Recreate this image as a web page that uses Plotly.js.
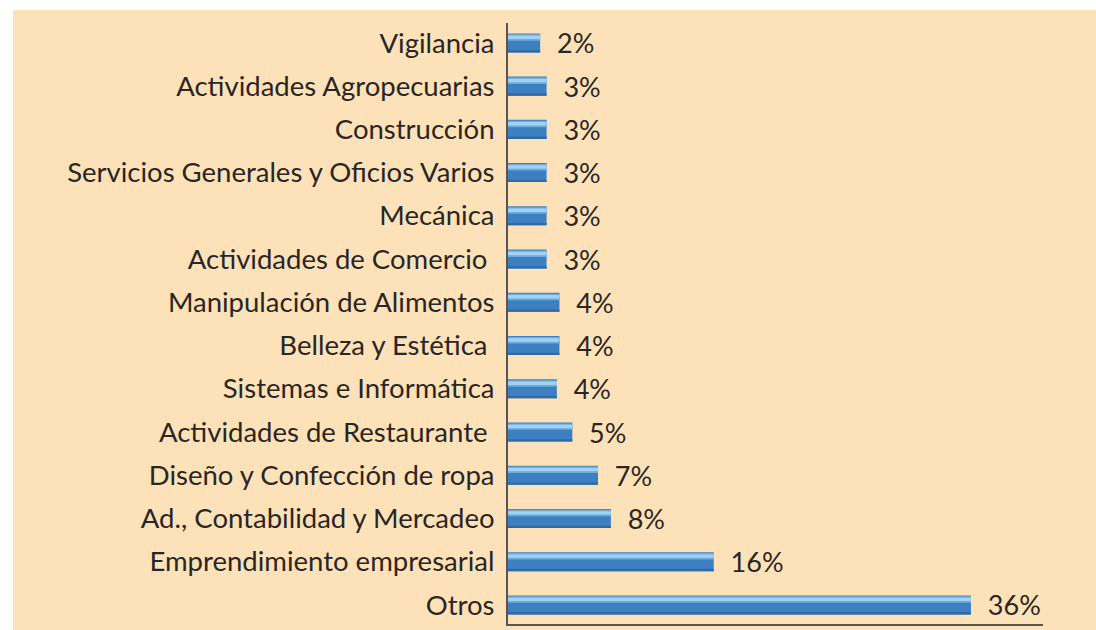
<!DOCTYPE html>
<html>
<head>
<meta charset="utf-8">
<script src="https://cdn.plot.ly/plotly-3.0.1.min.js"></script>
<style>
  html, body { margin: 0; padding: 0; background: #ffffff; }
  #chart { position: absolute; left: 13px; top: 10px; width: 1083px; height: 620px; }
</style>
</head>
<body>
<div id="chart"></div>
<script>
// Categories, top to bottom as in the reference
const categories = [
  "Vigilancia",
  "Actividades Agropecuarias",
  "Construcción",
  "Servicios Generales y Oficios Varios",
  "Mecánica",
  "Actividades de Comercio ",
  "Manipulación de Alimentos",
  "Belleza y Estética ",
  "Sistemas e Informática",
  "Actividades de Restaurante ",
  "Diseño y Confección de ropa",
  "Ad., Contabilidad y Mercadeo",
  "Emprendimiento empresarial",
  "Otros"
];
// Bar lengths (percent)
const values = [2.5, 3, 3, 3, 3, 3, 4, 4, 3.8, 5, 7, 8, 16, 36];
// Printed value labels
const valueLabels = ["2%", "3%", "3%", "3%", "3%", "3%", "4%", "4%", "4%", "5%", "7%", "8%", "16%", "36%"];

const FONT = "Lato, 'Open Sans', 'DejaVu Sans', sans-serif";
const TEXT = "#2a2623";

function layer(color, offset, width, withText) {
  const t = {
    type: "bar",
    orientation: "h",
    y: categories,
    x: values,
    offset: offset,
    width: width,
    marker: { color: color, line: { width: 0 } },
    hoverinfo: "skip",
    showlegend: false
  };
  if (withText) {
    t.text = valueLabels;
    t.texttemplate = "  %{text}";
    t.textposition = "outside";
    t.constraintext = "none";
    t.cliponaxis = false;
    t.outsidetextfont = { family: FONT, size: 27, color: TEXT };
    t.hoverinfo = "x+y";
  }
  return t;
}

const data = [
  layer("#3d80c2", -0.22, 0.44, true),   // body
  layer("#6eaade", -0.20, 0.15, false),  // upper light band
  layer("#a2d2f2", -0.17, 0.08, false),  // highlight
  layer("#2f6aa7", 0.165, 0.055, false)  // lower dark edge
];

const layout = {
  width: 1083,
  height: 620,
  paper_bgcolor: "#fde2b9",
  plot_bgcolor: "#fde2b9",
  barmode: "overlay",
  margin: { l: 495, r: 53, t: 13, b: 6 },
  font: { family: FONT, color: TEXT },
  xaxis: {
    range: [0, 41.6],
    showgrid: false,
    zeroline: false,
    showticklabels: false,
    ticks: "",
    showline: true,
    linecolor: "#5b5450",
    linewidth: 2
  },
  yaxis: {
    type: "category",
    categoryorder: "array",
    categoryarray: categories,
    range: [13.44, -0.46],
    showgrid: false,
    zeroline: false,
    ticks: "",
    ticklabelstandoff: 6,
    showline: true,
    linecolor: "#5b5450",
    linewidth: 2,
    tickfont: { family: FONT, size: 27.5, color: TEXT }
  }
};

Plotly.newPlot("chart", data, layout, { displayModeBar: false, staticPlot: true });
</script>
</body>
</html>
